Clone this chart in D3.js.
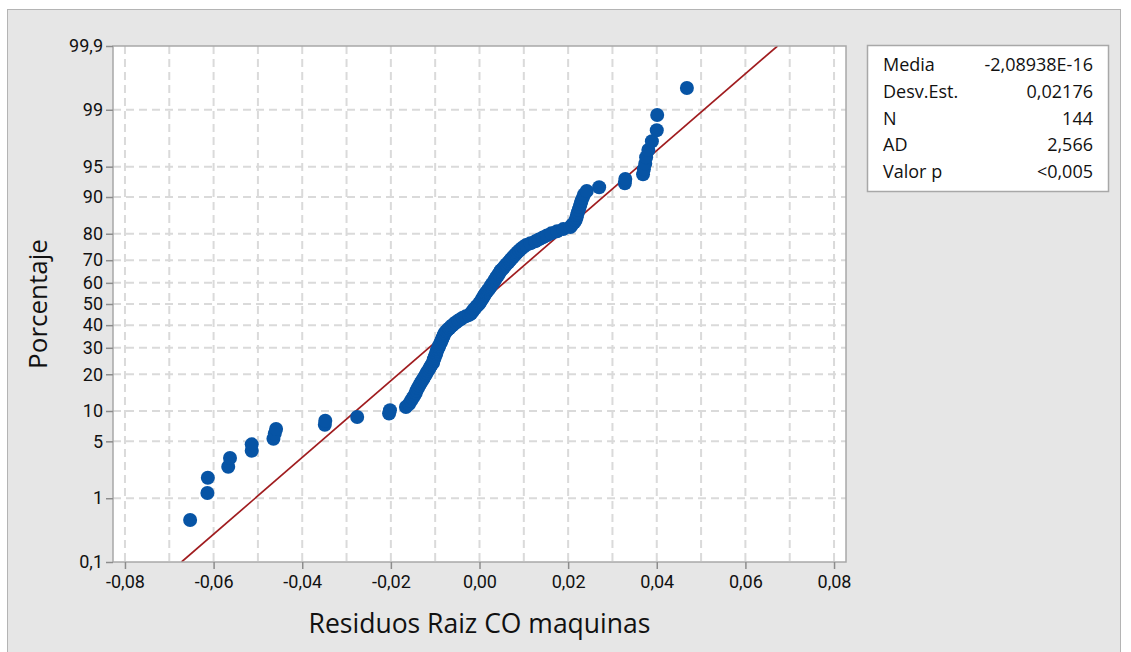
<!DOCTYPE html>
<html>
<head>
<meta charset="utf-8">
<script src="https://cdn.jsdelivr.net/npm/d3@7.9.0/dist/d3.min.js"></script>
<style>
  html, body { margin: 0; padding: 0; background: #fff; }
  svg { display: block; font-family: "Open Sans", "Noto Sans", sans-serif; }
</style>
</head>
<body>
<svg id="chart" width="1131" height="652"></svg>
<script>
// residuals, sorted ascending
const residuals = [
  -0.0653, -0.0614, -0.0613, -0.0567, -0.0563, -0.0514, -0.0514, -0.0465, -0.0462, -0.0459,
  -0.0349, -0.0348, -0.0276, -0.0204, -0.0202, -0.0166, -0.0159, -0.0155, -0.0151, -0.0147,
  -0.0144, -0.0142, -0.0139, -0.0136, -0.0133, -0.0130, -0.0127, -0.0124, -0.0121, -0.0119,
  -0.0116, -0.0113, -0.0111, -0.0108, -0.0105, -0.0104, -0.0103, -0.0101, -0.0100, -0.0098,
  -0.0097, -0.0096, -0.0094, -0.0092, -0.0091, -0.0089, -0.0087, -0.0086, -0.0084, -0.0083,
  -0.0081, -0.0080, -0.0078, -0.0075, -0.0072, -0.0068, -0.0065, -0.0061, -0.0057, -0.0053,
  -0.0048, -0.0043, -0.0038, -0.0031, -0.0023, -0.0019, -0.0017, -0.0014, -0.0012, -0.0009,
  -0.0006, -0.0003, 0.0000, 0.0002, 0.0004, 0.0006, 0.0008, 0.0010, 0.0012, 0.0014,
  0.0017, 0.0019, 0.0022, 0.0024, 0.0026, 0.0028, 0.0031, 0.0033, 0.0035, 0.0037,
  0.0039, 0.0042, 0.0044, 0.0046, 0.0048, 0.0052, 0.0055, 0.0058, 0.0061, 0.0065,
  0.0068, 0.0071, 0.0075, 0.0078, 0.0082, 0.0085, 0.0090, 0.0094, 0.0099, 0.0105,
  0.0115, 0.0126, 0.0134, 0.0143, 0.0152, 0.0162, 0.0175, 0.0189, 0.0205, 0.0209,
  0.0214, 0.0217, 0.0219, 0.0220, 0.0222, 0.0224, 0.0226, 0.0228, 0.0230, 0.0233,
  0.0236, 0.0242, 0.0270, 0.0328, 0.0329, 0.0369, 0.0371, 0.0374, 0.0376, 0.0381,
  0.0389, 0.0400, 0.0401, 0.0468
];

const mean = -2.08938e-16;
const stdev = 0.02176;

const xTicks = [-0.08, -0.06, -0.04, -0.02, 0.00, 0.02, 0.04, 0.06, 0.08];
const xGrid = d3.range(-8, 9).map(d => d / 100);
const yTicks = [0.1, 1, 5, 10, 20, 30, 40, 50, 60, 70, 80, 90, 95, 99, 99.9];

const statLabels = ["Media", "Desv.Est.", "N", "AD", "Valor p"];
const statValues = ["-2,08938E-16", "0,02176", "144", "2,566", "<0,005"];

// inverse normal CDF (Acklam)
function probit(p) {
  const a = [-3.969683028665376e+01, 2.209460984245205e+02, -2.759285104469687e+02,
             1.383577518672690e+02, -3.066479806614716e+01, 2.506628277459239e+00];
  const b = [-5.447609879822406e+01, 1.615858368580409e+02, -1.556989798598866e+02,
             6.680131188771972e+01, -1.328068155288572e+01];
  const c = [-7.784894002430293e-03, -3.223964580411365e-01, -2.400758277161838e+00,
             -2.549671010229583e+00, 4.374664141464968e+00, 2.938163982698783e+00];
  const d = [7.784695709041462e-03, 3.224671290700398e-01, 2.445134137142996e+00,
             3.754408661907416e+00];
  const pl = 0.02425;
  if (p < pl) {
    const q = Math.sqrt(-2 * Math.log(p));
    return (((((c[0]*q+c[1])*q+c[2])*q+c[3])*q+c[4])*q+c[5]) /
           ((((d[0]*q+d[1])*q+d[2])*q+d[3])*q+1);
  }
  if (p > 1 - pl) {
    const q = Math.sqrt(-2 * Math.log(1 - p));
    return -(((((c[0]*q+c[1])*q+c[2])*q+c[3])*q+c[4])*q+c[5]) /
            ((((d[0]*q+d[1])*q+d[2])*q+d[3])*q+1);
  }
  const q = p - 0.5, r = q * q;
  return (((((a[0]*r+a[1])*r+a[2])*r+a[3])*r+a[4])*r+a[5])*q /
         (((((b[0]*r+b[1])*r+b[2])*r+b[3])*r+b[4])*r+1);
}

const fmt = v => d3.format(".2f")(v).replace(".", ",").replace("−", "-");
const fmtPct = v => String(v).replace(".", ",");

const svg = d3.select("#chart");

// outer panel
svg.append("rect")
  .attr("x", 7.5).attr("y", 9.5).attr("width", 1113).attr("height", 660)
  .attr("fill", "#e6e6e6").attr("stroke", "#b4b4b4");

const plot = { left: 113, right: 846, top: 46, bottom: 562 };

const zMax = probit(0.999);
const x = d3.scaleLinear().domain([-0.0827, 0.0827]).range([plot.left, plot.right]);
const y = d3.scaleLinear().domain([-zMax, zMax]).range([plot.bottom, plot.top]);

svg.append("rect")
  .attr("x", plot.left).attr("y", plot.top)
  .attr("width", plot.right - plot.left).attr("height", plot.bottom - plot.top)
  .attr("fill", "#fff");

svg.append("clipPath").attr("id", "clip")
  .append("rect")
  .attr("x", plot.left).attr("y", plot.top)
  .attr("width", plot.right - plot.left).attr("height", plot.bottom - plot.top);

// grid
const grid = svg.append("g").attr("clip-path", "url(#clip)");
grid.selectAll("line.v").data(xGrid).join("line")
  .attr("x1", d => x(d)).attr("x2", d => x(d))
  .attr("y1", plot.top).attr("y2", plot.bottom)
  .attr("stroke", "#dadada").attr("stroke-width", 2).attr("stroke-dasharray", "8,5");
grid.selectAll("line.h").data(yTicks.slice(1, -1)).join("line")
  .attr("x1", plot.left).attr("x2", plot.right)
  .attr("y1", d => y(probit(d / 100))).attr("y2", d => y(probit(d / 100)))
  .attr("stroke", "#dadada").attr("stroke-width", 2).attr("stroke-dasharray", "8,5");

// fitted line
const fitLine = d3.line().x(d => x(mean + stdev * d)).y(d => y(d));
grid.append("path")
  .datum([-zMax, zMax])
  .attr("d", fitLine)
  .attr("fill", "none").attr("stroke", "#a01c1f").attr("stroke-width", 1.7);

// points
const n = residuals.length;
grid.selectAll("circle").data(residuals).join("circle")
  .attr("cx", d => x(d))
  .attr("cy", (d, i) => y(probit((i + 1 - 0.3) / (n + 0.4))))
  .attr("r", 7)
  .attr("fill", "#0754a5");

// frame
svg.append("rect")
  .attr("x", plot.left).attr("y", plot.top)
  .attr("width", plot.right - plot.left).attr("height", plot.bottom - plot.top)
  .attr("fill", "none").attr("stroke", "#a8a8a8").attr("stroke-width", 1.5);

// axes
const xAxis = svg.append("g")
  .attr("transform", `translate(0,${plot.bottom})`)
  .call(d3.axisBottom(x).tickValues(xTicks).tickFormat(fmt).tickSize(7).tickPadding(6));
const yAxis = svg.append("g")
  .attr("transform", `translate(${plot.left},0)`)
  .call(d3.axisLeft(y).tickValues(yTicks.map(d => probit(d / 100)))
        .tickFormat((d, i) => fmtPct(yTicks[i])).tickSize(7).tickPadding(3));

[xAxis, yAxis].forEach(g => {
  g.select(".domain").remove();
  g.selectAll(".tick line").attr("stroke", "#8c8c8c").attr("stroke-width", 1.5);
  g.selectAll(".tick text").attr("fill", "#111").style("font-size", "18px")
    .style("font-family", "Roboto, sans-serif");
});

// axis titles
svg.append("text")
  .attr("x", x(0)).attr("y", 633)
  .attr("text-anchor", "middle")
  .style("font-size", "26.5px").attr("fill", "#111")
  .text("Residuos Raiz CO maquinas");

svg.append("text")
  .attr("transform", `translate(47,${y(0)}) rotate(-90)`)
  .attr("text-anchor", "middle")
  .style("font-size", "26px").attr("fill", "#111")
  .text("Porcentaje");

// stats box
const box = svg.append("g");
box.append("rect")
  .attr("x", 867.5).attr("y", 45.5).attr("width", 241).attr("height", 146)
  .attr("fill", "#fff").attr("stroke", "#a8a8a8").attr("stroke-width", 1.5);
const rowY = d3.scalePoint().domain(statLabels).range([71, 178]);
box.selectAll("text.lab").data(statLabels).join("text")
  .attr("x", 883).attr("y", d => rowY(d))
  .style("font-size", "18px").attr("fill", "#111")
  .text(d => d);
box.selectAll("text.val").data(statValues).join("text")
  .attr("x", 1093).attr("y", (d, i) => rowY(statLabels[i]))
  .attr("text-anchor", "end")
  .style("font-size", "18px").attr("fill", "#111")
  .text(d => d);
</script>
</body>
</html>
